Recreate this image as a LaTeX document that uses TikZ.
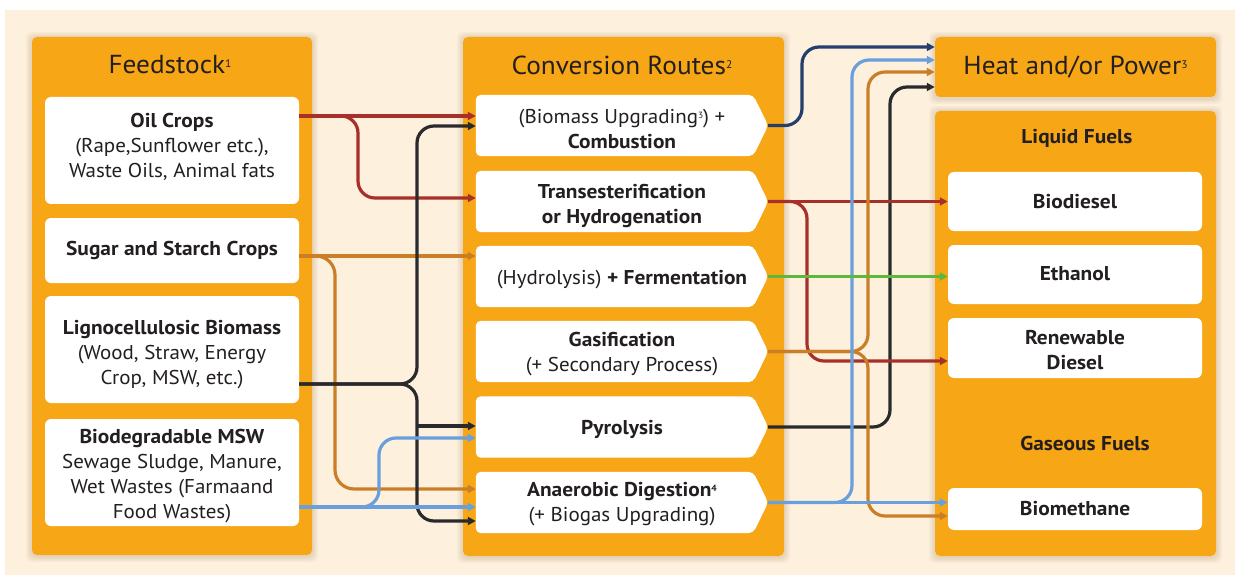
\documentclass[tikz,border=0pt]{standalone}
\usepackage{fontspec}
\setmainfont{PT Sans}[FakeStretch=1.05, BoldFeatures={FakeStretch=1.07}]
\usetikzlibrary{arrows.meta}
\definecolor{panelOr}{HTML}{F7A616}
\definecolor{creamBg}{HTML}{FDF1DE}
\definecolor{shadeBr}{HTML}{7A4A10}
\definecolor{inkDark}{HTML}{231F20}
\definecolor{lnRed}{HTML}{A8302A}
\definecolor{lnOrange}{HTML}{C97E27}
\definecolor{lnBlack}{HTML}{2A2A2C}
\definecolor{lnBlue}{HTML}{689FDC}
\definecolor{lnNavy}{HTML}{243E6D}
\definecolor{lnGreen}{HTML}{5CB83C}
\pgfdeclarelayer{panels}
\pgfdeclarelayer{cards}
\pgfsetlayers{panels,cards,main}
\newcommand{\bodyfont}{\fontsize{20}{25}\selectfont}
% footnote marks: [size]{raise}{digit}
\newcommand{\fnmark}[3][9]{\raisebox{#2}{\fontsize{#1}{#1}\selectfont #3}}
% orange column with a soft halo round it
\newcommand{\panelbox}[4]{%
  \foreach \g in {6,4.5,3,1.5}{%
    \fill[shadeBr, opacity=0.045, rounded corners=6pt]
      ({#1-\g},{#2-\g+1}) rectangle ({#3+\g},{#4+\g+1});}%
  \fill[panelOr, rounded corners=5pt] (#1,#2) rectangle (#3,#4);}
\tikzset{
  card/.style={rectangle, fill=white, rounded corners=6pt, inner sep=0pt,
    minimum width=254pt},
  route/.style={rectangle, inner sep=0pt, minimum width=292pt, minimum height=61pt},
  cardtext/.style={inner sep=0pt, align=center, text=inkDark, font=\bodyfont},
  heading/.style={text=inkDark, font=\fontsize{26}{30}\selectfont},
  subhead/.style={text=inkDark, font=\bfseries\bodyfont},
  conn/.style={line width=3.2pt, -{Triangle[length=8pt,width=8pt]}, rounded corners=17pt},
}
\begin{document}
\begin{tikzpicture}[x=1pt, y=-1pt]
\useasboundingbox (0,0) rectangle (1235,575);

% page, cream field and the orange columns
\begin{pgfonlayer}{panels}
  \fill[white] (0,0) rectangle (1235,575);
  \fill[creamBg] (5,10) rectangle (1235,575);
  \panelbox{32}{37}{312}{555}
  \panelbox{463}{37}{784}{556}
  \panelbox{935}{37}{1216}{97}
  \panelbox{935}{111}{1216}{556}
\end{pgfonlayer}

% column headings
\node[heading] (feedhead) at (170,65) {Feedstock\fnmark[11]{6pt}{1}};
\node[heading] (convhead) at (622,65) {Conversion Routes\fnmark[11]{6pt}{2}};
\node[heading, minimum width=281pt, minimum height=60pt, inner sep=0pt]
  (heat) at (1075.5,67) {Heat and/or Power\fnmark[11]{6pt}{3}};
\node[subhead] (liqhead) at (1077,138) {Liquid Fuels};
\node[subhead] (gashead) at (1085,443) {Gaseous Fuels};

% feedstocks
\node[card, minimum height=107pt] (oil) at (172,150.5) {};
\node[card, minimum height=65pt] (sugar) at (172,250.5) {};
\node[card, minimum height=107pt] (ligno) at (172,349.5) {};
\node[card, minimum height=107pt] (msw) at (172,472.5) {};
\node[cardtext] (oiltext) at ([yshift=4pt]oil.center)
  {\textbf{Oil Crops}\\(Rape,Sunflower etc.),\\Waste Oils, Animal fats};
\node[cardtext] (sugartext) at (sugar.center) {\textbf{Sugar and Starch Crops}};
\node[cardtext] (lignotext) at ([yshift=-5pt]ligno.center)
  {\textbf{Lignocellulosic Biomass}\\(Wood, Straw, Energy\\Crop, MSW, etc.)};
\node[cardtext] (mswtext) at ([yshift=-4pt]msw.center)
  {\textbf{Biodegradable MSW}\\Sewage Sludge, Manure,\\Wet Wastes (Farmaand\\Food Wastes)};

% conversion routes
\node[route] (comb) at (622,125.5) {};
\node[route] (trans) at (622,201.5) {};
\node[route] (hydro) at (622,276.5) {};
\node[route] (gasif) at (622,351.5) {};
\node[route] (pyro) at (622,427) {};
\node[route] (ad) at (622,502.5) {};
\node[cardtext] (combtext) at ([yshift=-4pt]comb.center)
  {(Biomass Upgrading\fnmark{5pt}{3}) +\\\textbf{Combustion}};
\node[cardtext] (transtext) at ([yshift=-4.5pt]trans.center)
  {\textbf{Transesterification}\\\textbf{or Hydrogenation}};
\node[cardtext] (hydrotext) at ([yshift=-3pt]hydro.center)
  {(Hydrolysis) \textbf{+ Fermentation}};
\node[cardtext] (gasiftext) at ([yshift=-2.5pt]gasif.center)
  {\textbf{Gasification}\\(+ Secondary Process)};
\node[cardtext] (pyrotext) at ([yshift=-2pt]pyro.center) {\textbf{Pyrolysis}};
\node[cardtext] (adtext) at ([yshift=-2pt]ad.center)
  {\textbf{Anaerobic Digestion\fnmark{5pt}{4}}\\(+ Biogas Upgrading)};

% pointed white cards behind the route labels
\begin{pgfonlayer}{cards}
  \foreach \r in {comb,trans,hydro,gasif,pyro,ad}{
    \fill[white, rounded corners=5pt] (\r.south west) -- (\r.north west)
      -- ([xshift=-15pt]\r.north east) -- (\r.east)
      -- ([xshift=-15pt]\r.south east) -- cycle;
  }
\end{pgfonlayer}

% products
\node[card, minimum height=59pt] (biod) at (1075,201.5) {};
\node[card, minimum height=59pt] (eth) at (1075,274.5) {};
\node[card, minimum height=60pt] (rdsl) at (1075,348) {};
\node[card, minimum height=42pt] (bmeth) at (1075,509) {};
\node[cardtext] (biodtext) at (biod.center) {\textbf{Biodiesel}};
\node[cardtext] (ethtext) at ([yshift=1pt]eth.center) {\textbf{Ethanol}};
\node[cardtext] (rdsltext) at ([yshift=-2pt]rdsl.center) {\textbf{Renewable}\\\textbf{Diesel}};
\node[cardtext] (bmethtext) at (bmeth.center) {\textbf{Biomethane}};

% feedstock -> route
\draw[conn, lnRed] (oil.east |- 0,116) -- (comb.west |- 0,116);
\draw[conn, lnRed] (oil.east |- 0,116) -- (358,116) -- (358,198) -- (trans.west |- 0,198);
\draw[conn, lnOrange] (sugar.east |- 0,256) -- (hydro.west |- 0,256);
\draw[conn, lnOrange, rounded corners=19pt] (sugar.east |- 0,256) -- (335,256) -- (335,489) -- (ad.west |- 0,489);
\draw[conn, lnBlack] (ligno.east |- 0,384) -- (417,384) -- (417,126) -- (comb.west |- 0,126);
\draw[conn, lnBlack] (ligno.east |- 0,384) -- (417,384) -- (417,521) -- (ad.west |- 0,521);
\draw[conn, lnBlack, rounded corners=0pt] (417,426) -- (pyro.west |- 0,426);
\draw[conn, lnBlue] (msw.east |- 0,507) -- (ad.west |- 0,507);
\draw[conn, lnBlue] (msw.east |- 0,507) -- (379,507) -- (379,438) -- (pyro.west |- 0,438);

% route -> product
\draw[conn, lnBlack] (pyro.east) -- (890,427) -- (890,87) -- (heat.west |- 0,87);
\draw[conn, lnRed] (trans.east) -- (biod.west |- trans.east);
\draw[conn, lnRed] (trans.east) -- (807,201.5) -- (807,361) -- (rdsl.west |- 0,361);
\draw[conn, lnOrange] (gasif.east) -- (868,351.5) -- (868,72) -- (heat.west |- 0,72);
\draw[conn, lnOrange] (gasif.east) -- (868,351.5) -- (868,516) -- (bmeth.west |- 0,516);
\draw[conn, lnBlue] (ad.east) -- (bmeth.west |- ad.east);
\draw[conn, lnBlue] (ad.east) -- (852,502.5) -- (852,60) -- (heat.west |- 0,60);
\draw[conn, lnNavy] (comb.east) -- (802,125.5) -- (802,47) -- (heat.west |- 0,47);
\draw[conn, lnGreen] (hydro.east) -- (eth.west |- hydro.east);
\end{tikzpicture}
\end{document}
